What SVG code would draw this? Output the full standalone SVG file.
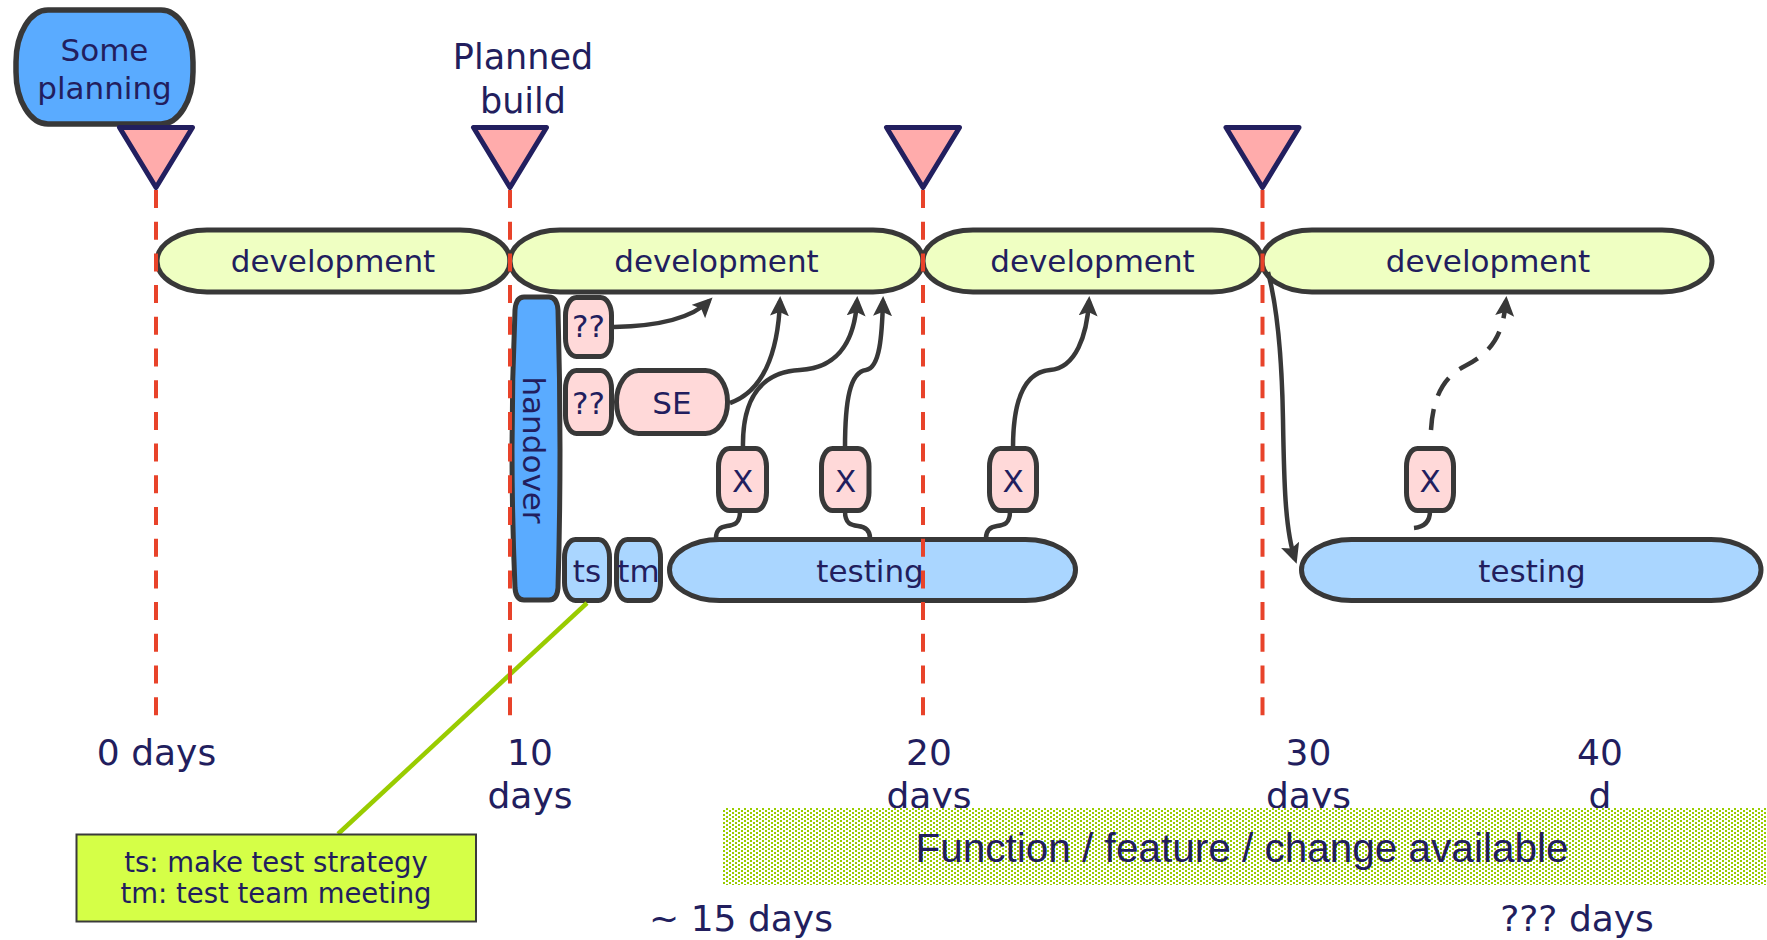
<svg xmlns="http://www.w3.org/2000/svg" width="1767" height="940" viewBox="0 0 1767 940">
  <defs>
    <style>
      .lbl{font-family:"DejaVu Sans",Verdana,sans-serif;fill:#221e5e;text-anchor:middle;font-size:31px}
      .big{font-size:36px}
      .head{font-size:35px}
      .note{font-size:27.5px}
      .dev{fill:#efffc2;stroke:#383838;stroke-width:5}
      .test{fill:#aad6ff;stroke:#383838;stroke-width:5}
      .pink{fill:#ffd9d9;stroke:#383838;stroke-width:5}
      .blue{fill:#5aabff;stroke:#383838;stroke-width:5}
      .ms{fill:#ffabab;stroke:#221f5f;stroke-width:5;stroke-linejoin:round}
      .guide{fill:none;stroke:#e8432a;stroke-width:4;stroke-dasharray:18 13.7}
      .conn{fill:none;stroke:#383838;stroke-width:4.5}
    </style>
    <marker id="arrow" markerUnits="userSpaceOnUse" markerWidth="22" markerHeight="20" refX="15" refY="9.5" orient="auto">
      <path d="M0,0 L20,9.5 L0,19 L4,9.5 Z" fill="#383838"/>
    </marker>
    <pattern id="dots" width="6" height="4" patternUnits="userSpaceOnUse">
      <rect width="6" height="4" fill="#ffffff"/>
      <rect width="2" height="2" fill="#99cc00"/>
      <rect x="3" y="2" width="2" height="2" fill="#99cc00"/>
    </pattern>
  </defs>

  <rect width="1767" height="940" fill="#ffffff"/>

  <!-- planning and build headers -->
  <g id="planning">
    <rect class="blue" x="16" y="10" width="177" height="114" rx="32" ry="52" style="stroke-width:5.5"/>
    <text class="lbl" x="104.5" y="61">Some</text>
    <text class="lbl" x="104.5" y="99">planning</text>
  </g>
  <g id="planned-build">
    <text class="lbl head" x="523" y="69">Planned</text>
    <text class="lbl head" x="523" y="113">build</text>
  </g>

  <!-- milestones -->
  <g id="milestone-0"><path class="ms" d="M119.5,127.5 H192.5 L156,187.5 Z"/></g>
  <g id="milestone-10"><path class="ms" d="M473.5,127.5 H546.5 L510,187.5 Z"/></g>
  <g id="milestone-20"><path class="ms" d="M886.5,127.5 H959.5 L923,187.5 Z"/></g>
  <g id="milestone-30"><path class="ms" d="M1226,127.5 H1299 L1262.5,187.5 Z"/></g>

  <!-- development phases -->
  <g id="dev-1">
    <path class="dev" d="M207,230 H460 A50,31 0 0 1 510,261 A50,31 0 0 1 460,292 H207 A50,31 0 0 1 157,261 A50,31 0 0 1 207,230 Z"/>
    <text class="lbl" x="333" y="272">development</text>
  </g>
  <g id="dev-2">
    <path class="dev" d="M560,230 H873 A50,31 0 0 1 923,261 A50,31 0 0 1 873,292 H560 A50,31 0 0 1 510,261 A50,31 0 0 1 560,230 Z"/>
    <text class="lbl" x="716.5" y="272">development</text>
  </g>
  <g id="dev-3">
    <path class="dev" d="M973,230 H1212 A50,31 0 0 1 1262,261 A50,31 0 0 1 1212,292 H973 A50,31 0 0 1 923,261 A50,31 0 0 1 973,230 Z"/>
    <text class="lbl" x="1092.5" y="272">development</text>
  </g>
  <g id="dev-4">
    <path class="dev" d="M1312,230 H1662 A50,31 0 0 1 1712,261 A50,31 0 0 1 1662,292 H1312 A50,31 0 0 1 1262,261 A50,31 0 0 1 1312,230 Z"/>
    <text class="lbl" x="1488" y="272">development</text>
  </g>

  <!-- handover -->
  <g id="handover">
    <path class="blue" d="M524,297 H549 Q557,297 558,310 Q562,449 558,588 Q557,600 549,600 H524 Q516,600 515,588 Q509,449 515,310 Q516,297 524,297 Z"/>
    <text class="lbl" transform="translate(523,450) rotate(90)">handover</text>
  </g>

  <!-- open questions and SE -->
  <g id="q-1">
    <rect class="pink" x="565.5" y="297.5" width="46" height="59" rx="11" ry="18"/>
    <text class="lbl" x="588.5" y="337">??</text>
  </g>
  <g id="q-2">
    <rect class="pink" x="565.5" y="370.5" width="46" height="63" rx="11" ry="18"/>
    <text class="lbl" x="588.5" y="414">??</text>
  </g>
  <g id="se">
    <rect class="pink" x="616.5" y="370.5" width="111" height="63" rx="22" ry="31"/>
    <text class="lbl" x="672" y="414">SE</text>
  </g>

  <!-- test preparation -->
  <g id="ts">
    <rect class="test" x="564.5" y="539.5" width="45" height="61" rx="11" ry="18"/>
    <text class="lbl" x="587" y="582">ts</text>
  </g>
  <g id="tm">
    <rect class="test" x="616.5" y="539.5" width="44" height="61" rx="11" ry="18"/>
    <text class="lbl" x="638.5" y="582">tm</text>
  </g>

  <!-- testing phases -->
  <g id="testing-1">
    <path class="test" d="M719.5,539.5 H1025.5 A50,30.5 0 0 1 1075.5,570 A50,30.5 0 0 1 1025.5,600.5 H719.5 A50,30.5 0 0 1 669.5,570 A50,30.5 0 0 1 719.5,539.5 Z"/>
    <text class="lbl" x="870" y="582">testing</text>
  </g>
  <g id="testing-2">
    <path class="test" d="M1351.5,539.5 H1711 A50,30.5 0 0 1 1761,570 A50,30.5 0 0 1 1711,600.5 H1351.5 A50,30.5 0 0 1 1301.5,570 A50,30.5 0 0 1 1351.5,539.5 Z"/>
    <text class="lbl" x="1532" y="582">testing</text>
  </g>

  <!-- defects found -->
  <g id="x-1">
    <rect class="pink" x="718.5" y="448.5" width="48" height="62" rx="11" ry="18"/>
    <text class="lbl" x="742.5" y="492">X</text>
  </g>
  <g id="x-2">
    <rect class="pink" x="821.5" y="448.5" width="47.5" height="62" rx="11" ry="18"/>
    <text class="lbl" x="845.5" y="492">X</text>
  </g>
  <g id="x-3">
    <rect class="pink" x="989.5" y="448.5" width="47" height="62" rx="11" ry="18"/>
    <text class="lbl" x="1013" y="492">X</text>
  </g>
  <g id="x-4">
    <rect class="pink" x="1406.5" y="448.5" width="47" height="62" rx="11" ry="18"/>
    <text class="lbl" x="1430" y="492">X</text>
  </g>

  <!-- connectors -->
  <g id="connectors">
    <path class="conn" marker-end="url(#arrow)" d="M614,327 C660,326 692,318 709,301"/>
    <path class="conn" marker-end="url(#arrow)" d="M730,403 C762,392 778,355 780,301"/>
    <path class="conn" marker-end="url(#arrow)" d="M743,448 C742,400 760,372 800,370 C842,368 855,335 857,301"/>
    <path class="conn" marker-end="url(#arrow)" d="M845,448 C845,400 850,372 866,370 C880,368 882,335 883,301"/>
    <path class="conn" marker-end="url(#arrow)" d="M1013,448 C1013,400 1025,372 1050,370 C1076,368 1087,335 1089,301"/>
    <path class="conn" marker-end="url(#arrow)" stroke-dasharray="21 14" d="M1431,430 C1433,395 1445,376 1465,366 C1492,352 1503,335 1506,301"/>
    <path class="conn" marker-end="url(#arrow)" d="M1268,272 C1278,310 1282,360 1283,420 C1284,480 1285,530 1295,559"/>
    <path class="conn" d="M740,511 C740,524 734,525 727,526 C720,527 716,530 716,538"/>
    <path class="conn" d="M845,511 C845,524 851,525 858,526 C866,527 870,531 870,538"/>
    <path class="conn" d="M1010,511 C1010,524 1004,525 997,526 C990,527 986,531 986,538"/>
    <path class="conn" d="M1430,511 C1430,522 1424,527 1414,528"/>
    <line x1="587" y1="603" x2="338" y2="834" stroke="#99cc00" stroke-width="4.5"/>
  </g>

  <!-- time guides -->
  <g id="guides">
    <line class="guide" x1="156" y1="190" x2="156" y2="716"/>
    <line class="guide" x1="510" y1="190" x2="510" y2="716"/>
    <line class="guide" x1="923" y1="190" x2="923" y2="716"/>
    <line class="guide" x1="1262.5" y1="190" x2="1262.5" y2="716"/>
  </g>

  <!-- time axis labels -->
  <g id="axis">
    <text class="lbl big" x="156.5" y="765">0 days</text>
    <text class="lbl big" x="530" y="765">10</text>
    <text class="lbl big" x="530" y="808">days</text>
    <text class="lbl big" x="929" y="765">20</text>
    <text class="lbl big" x="929" y="808">days</text>
    <text class="lbl big" x="1308.5" y="765">30</text>
    <text class="lbl big" x="1308.5" y="808">days</text>
    <text class="lbl big" x="1600" y="765">40</text>
    <text class="lbl big" x="1600" y="808">d</text>
  </g>

  <!-- availability band -->
  <g id="available">
    <rect x="723" y="808" width="1044" height="77" fill="url(#dots)"/>
    <text x="1242" y="862" font-family="'Liberation Sans',Arial,sans-serif" font-size="40.5" fill="#221e5e" text-anchor="middle">Function / feature / change available</text>
  </g>

  <g id="durations">
    <text class="lbl big" x="741" y="931">~ 15 days</text>
    <text class="lbl big" x="1577" y="931">??? days</text>
  </g>

  <!-- legend -->
  <g id="legend">
    <rect x="76.5" y="834.5" width="399.5" height="87" fill="#d5ff47" stroke="#3a3a3a" stroke-width="2"/>
    <text class="lbl note" x="276" y="872">ts: make test strategy</text>
    <text class="lbl note" x="276" y="903">tm: test team meeting</text>
  </g>
</svg>
